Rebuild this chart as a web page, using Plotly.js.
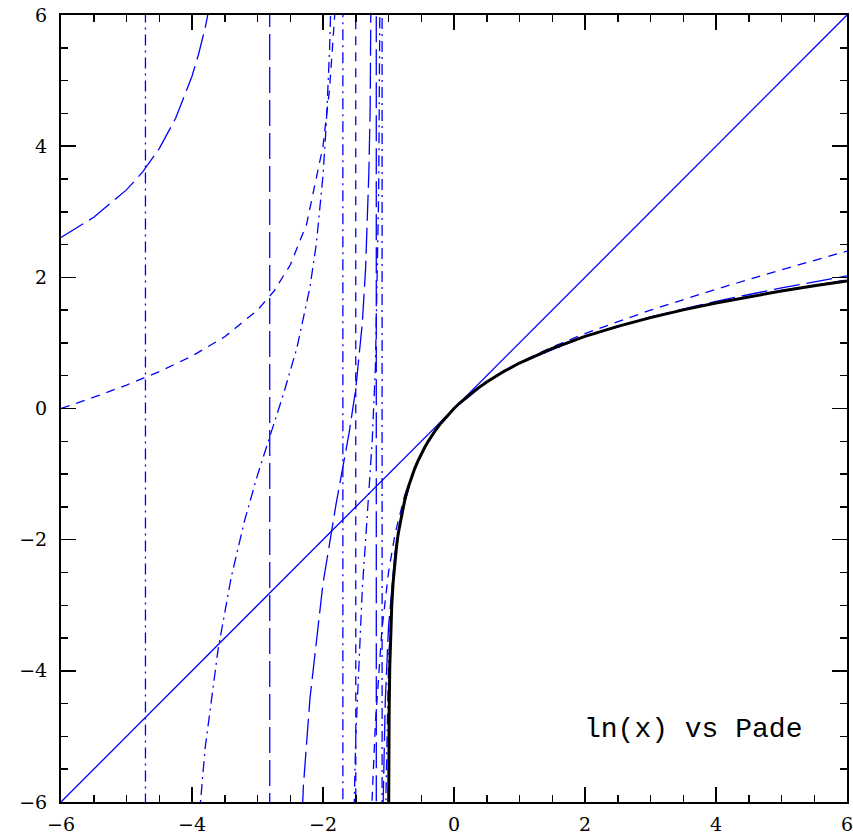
<!DOCTYPE html>
<html>
<head>
<meta charset="utf-8">
<script src="https://cdn.plot.ly/plotly-3.0.1.min.js"></script>
<style>html,body{margin:0;padding:0;background:#fff;}#chart{width:853px;height:834px;}</style>
</head>
<body>
<div id="chart"></div>
<script>
// ln(1+x)
var lnX = [-0.998,-0.9975,-0.995,-0.99,-0.98,-0.97,-0.96,-0.95,-0.93,-0.9,-0.875,-0.85,-0.8,-0.75,-0.7,-0.65,-0.6,-0.55,-0.5,-0.45,-0.4,-0.35,-0.3,-0.2,-0.1,0,0.1,0.25,0.35,0.5,0.75,1,1.5,2,2.5,3,3.5,4,4.5,5,5.5,6];
var lnY = [-6.215,-5.991,-5.298,-4.605,-3.912,-3.507,-3.219,-2.996,-2.659,-2.303,-2.079,-1.897,-1.609,-1.386,-1.204,-1.050,-0.916,-0.799,-0.693,-0.598,-0.511,-0.431,-0.357,-0.223,-0.105,0,0.0953,0.223,0.300,0.405,0.560,0.693,0.916,1.099,1.253,1.386,1.504,1.609,1.705,1.792,1.872,1.946];
// Pade [1/0]
var p10x = [-6, 6];
var p10y = [-6, 6];
// Pade [2/1]
var p21x = [-6,-5.5,-5,-4.5,-4,-3.5,-3,-2.75,-2.5,-2.25,-2,-1.9,-1.8,-1.7,-1.6,-1.55,-1.51,-1.49,-1.45,-1.4,-1.3,-1.25,-1.2,-1.1,-1,-0.9,-0.75,-0.5,-0.25,0,0.5,1,1.5,2,3,4,5,6];
var p21y = [0,0.1719,0.3571,0.5625,0.8,1.0938,1.5,1.7875,2.1875,2.8125,4,4.869,6.3,9.14,17.6,34.5,169.5,-168,-33,-16.1,-7.64,-5.94,-4.8,-3.369,-2.5,-1.9125,-1.3125,-0.6875,-0.2875,0,0.4063,0.7,0.9375,1.1429,1.5,1.8182,2.1154,2.4];
// Pade [3/2]
var p32x = [-6,-5.5,-5,-4.75,-4.5,-4.25,-4,-3.9,-3.8,-3.7,-3.5,-3.2,-2.9,-2.83,-2.8,-2.7,-2.5,-2.3,-2.2,-2,-1.8,-1.6,-1.5,-1.4,-1.35,-1.3,-1.28,-1.25,-1.22,-1.19,-1.18,-1.15,-1.12,-1.1,-1.05,-1,-0.9,-0.8,-0.6,-0.4,-0.2,0,0.5,1,2,3,4,5,6];
var p32y = [2.6087,2.9149,3.3333,3.6116,3.9627,4.4246,5.0667,5.4017,5.8017,6.2887,7.6754,12.4,50.6,303,-244.5,-32.96,-10.833,-5.7655,-4.431,-2.6667,-1.4553,-0.3649,0.3,1.2986,2.133,3.5893,4.5645,7.0833,13.65,80.4,-151,-16.41,-8.934,-6.9155,-4.4783,-3.3333,-2.192,-1.5908,-0.9155,-0.5108,-0.2231,0,0.4055,0.6933,1.1014,1.3973,1.6352,1.8391,2.0211];
// Pade [4/3]
var p43x = [-6,-5.5,-5,-4.8,-4.72,-4.7,-4.6,-4.4,-4.2,-4,-3.8,-3.6,-3.4,-3.2,-3,-2.8,-2.6,-2.4,-2.2,-2.1,-2,-1.95,-1.9,-1.85,-1.8,-1.75,-1.7,-1.69,-1.65,-1.6,-1.55,-1.5,-1.4,-1.3,-1.25,-1.2,-1.15,-1.13,-1.11,-1.1,-1.095,-1.09,-1.08,-1.06,-1.04,-1.02,-1,-0.95,-0.9,-0.8,-0.7,-0.6,-0.4,-0.2,0,0.5,1,2,3,4,5,6];
var p43y = [8.037,11.68,27.64,83.1,683,-772,-64.0,-20.91,-11.6,-7.509,-5.183,-3.661,-2.567,-1.719,-1.015,-0.385,0.233,0.918,1.843,2.524,3.556,4.333,5.454,7.243,10.65,19.94,168.7,-329,-25.2,-11.39,-7.17,-5.016,-2.757,-1.292,-0.517,0.62,3.295,6.46,19.2,93.2,-122,-38.35,-16.88,-8.506,-5.955,-4.687,-3.917,-2.849,-2.272,-1.607,-1.204,-0.916,-0.511,-0.223,0,0.4055,0.6932,1.0988,1.3874,1.6129,1.7994,1.9598];

var tickVals = [-6,-4,-2,0,2,4,6];
var tickText = ['\u22126','\u22124','\u22122','0','2','4','6'];
var labelText = 'ln(x) vs Pade';

var blue = '#0000ff';
var traces = [
  {x: p10x, y: p10y, mode: 'lines', line: {color: blue, width: 1.3}},
  {x: p21x, y: p21y, mode: 'lines', line: {color: blue, width: 1.3, dash: '9px,7px'}},
  {x: p32x, y: p32y, mode: 'lines', line: {color: blue, width: 1.3, dash: '26px,7px'}},
  {x: p43x, y: p43y, mode: 'lines', line: {color: blue, width: 1.3, dash: '11px,5px,2px,5px'}},
  {x: lnX, y: lnY, mode: 'lines', line: {color: '#000000', width: 3}}
];

var axisCommon = {
  range: [-6, 6],
  showgrid: false,
  zeroline: false,
  showline: true,
  linecolor: '#000',
  linewidth: 2,
  mirror: 'allticks',
  ticks: 'inside',
  ticklen: 15,
  tickwidth: 1.5,
  tickcolor: '#000',
  tickmode: 'array',
  tickvals: tickVals,
  ticktext: tickText,
  ticklabeloverflow: 'allow',
  tickfont: {family: 'DejaVu Serif', size: 19, color: '#000'},
  minor: {dtick: 0.5, ticks: 'inside', ticklen: 7, tickwidth: 1.5, tickcolor: '#000'},
  fixedrange: true
};

var layout = {
  width: 853,
  height: 834,
  margin: {l: 61, r: 6, t: 15, b: 32, pad: 0},
  paper_bgcolor: '#fff',
  plot_bgcolor: '#fff',
  showlegend: false,
  xaxis: Object.assign({}, axisCommon, {ticklabelstandoff: 4}),
  yaxis: Object.assign({}, axisCommon, {ticklabelstandoff: 8}),
  annotations: [{
    text: labelText,
    xref: 'x', yref: 'y',
    x: 1.96, y: -4.9,
    xanchor: 'left', yanchor: 'middle',
    showarrow: false,
    font: {family: 'Liberation Mono', size: 28, color: '#000'}
  }]
};

Plotly.newPlot('chart', traces, layout, {staticPlot: true, displayModeBar: false});
</script>
</body>
</html>
